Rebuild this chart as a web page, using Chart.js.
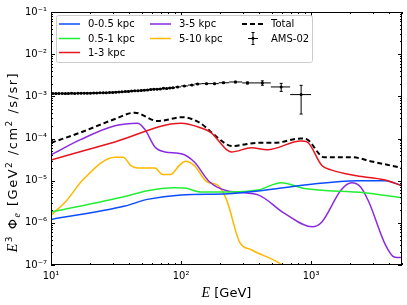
<!DOCTYPE html>
<html>
  <head>
    <meta charset='utf-8'>
    <title>Electron spectrum by source distance</title>
    <style>
      html, body { margin: 0; padding: 0; background: white; }
    </style>
    <script src='https://cdn.jsdelivr.net/npm/chart.js@4.4.1/dist/chart.umd.min.js'></script>
  </head>
  <body>
    <canvas id='spectrum' width='407' height='305'></canvas>

    <script>
    // E in GeV, E^3 Phi_e in GeV^2/cm^2/s/sr
    var nearE = [10, 37, 55, 100, 229, 390, 930, 2240, 3730, 5000];
    var nearFlux = [1.2e-6, 2.5e-6, 3.6e-6, 4.6e-6, 4.9e-6, 5.7e-6, 8e-6, 1e-5, 1e-5, 7.6e-6];

    var midE = [10, 37, 55, 89, 106, 142, 229, 390, 590, 890, 2570, 5000];
    var midFlux = [1.8e-6, 4.2e-6, 5.8e-6, 6.8e-6, 6.7e-6, 5.4e-6, 5.4e-6, 6e-6, 8.9e-6, 6.5e-6, 5.2e-6, 3.9e-6];

    var oneThreeE = [10, 31, 100, 141, 169, 228, 244, 347, 460, 835, 930, 1210, 1420, 2240, 3630, 5000];
    var oneThreeFlux = [3.1e-5, 8.3e-5, 2.3e-4, 1.8e-4, 1.4e-4, 5.2e-5, 4.8e-5, 6e-5, 5.4e-5, 8.7e-5, 8.3e-5, 2.3e-5, 1.8e-5, 1.3e-5, 1.05e-5, 7.6e-6];

    var threeFiveE = [10, 17, 31, 46.5, 53, 63, 75, 102, 126, 166, 229, 390, 620, 1020, 1210, 1700, 2050, 2400, 2770, 3730, 4350, 5000];
    var threeFiveFlux = [4.1e-5, 9.5e-5, 2.0e-4, 2.3e-4, 1.6e-4, 6.3e-5, 4.8e-5, 4.3e-5, 2.8e-5, 9.3e-6, 5.7e-6, 4.6e-6, 1.7e-6, 8.1e-7, 1.05e-6, 6e-6, 8.9e-6, 7.1e-6, 3.2e-6, 3e-7, 1.55e-7, 1.5e-7];

    var fiveTenE = [10, 13.3, 17.6, 31, 36, 41, 46, 63, 72, 83, 97, 108, 126, 159, 190, 224, 282, 347, 600, 650];
    var fiveTenFlux = [1.5e-6, 3.5e-6, 1.05e-5, 3.6e-5, 3.6e-5, 2.3e-5, 2.0e-5, 2.0e-5, 1.4e-5, 1.4e-5, 2.3e-5, 2.9e-5, 2.3e-5, 9.3e-6, 7.9e-6, 3.5e-6, 3.5e-7, 2.3e-7, 1.0e-7, 8e-8];

    var totalE = [10, 17, 31, 44, 66, 103, 141, 169, 215, 244, 387, 522, 835, 930, 1260, 2030, 3000, 5000];
    var totalFlux = [7.9e-5, 1.4e-4, 2.9e-4, 4.1e-4, 2.6e-4, 3.2e-4, 2.3e-4, 1.45e-4, 7.9e-5, 6.6e-5, 7.9e-5, 7.9e-5, 1.0e-4, 9.5e-5, 3.6e-5, 3.6e-5, 2.8e-5, 2.0e-5];

    var amsE = [10.3, 10.9, 11.5, 12.2, 12.9, 13.6, 14.4, 15.2, 16.1, 17.0,
      18.0, 19.0, 20.1, 21.3, 22.5, 23.8, 25.2, 26.6, 28.2, 29.8,
      31.5, 33.3, 35.2, 37.3, 39.4, 41.7, 44.1, 46.7, 49.4, 52.2,
      55.2, 58.4, 61.8, 65.4, 69.2, 73.2, 77.5, 82.0, 86.7,
      94, 106, 121, 134, 157, 181, 212, 262, 324, 422, 589, 838];
    var amsEdges = [10.0, 10.6, 11.2, 11.85, 12.55, 13.25, 14.0, 14.8, 15.65, 16.55,
      17.5, 18.5, 19.55, 20.7, 21.9, 23.15, 24.5, 25.9, 27.4, 29.0,
      30.65, 32.4, 34.25, 36.25, 38.35, 40.55, 42.9, 45.4, 48.05, 50.8,
      53.7, 56.8, 60.1, 63.6, 67.3, 71.2, 75.35, 79.75, 84.35,
      90, 100, 113, 127, 143, 170, 195, 235, 295, 365, 490, 690, 1000];
    var amsFlux = [1.17e-3, 1.16e-3, 1.17e-3, 1.17e-3, 1.16e-3, 1.17e-3, 1.18e-3, 1.17e-3, 1.18e-3, 1.18e-3,
      1.19e-3, 1.18e-3, 1.19e-3, 1.20e-3, 1.20e-3, 1.21e-3, 1.22e-3, 1.22e-3, 1.23e-3, 1.24e-3,
      1.25e-3, 1.27e-3, 1.28e-3, 1.30e-3, 1.31e-3, 1.33e-3, 1.35e-3, 1.36e-3, 1.38e-3, 1.40e-3,
      1.42e-3, 1.45e-3, 1.47e-3, 1.48e-3, 1.50e-3, 1.55e-3, 1.53e-3, 1.57e-3, 1.60e-3,
      1.67e-3, 1.76e-3, 1.85e-3, 1.97e-3, 2.0e-3, 2.0e-3, 2.1e-3, 2.19e-3, 2.08e-3, 2.08e-3, 1.67e-3, 1.1e-3];
    var amsErr = [2e-5, 2e-5, 2e-5, 2e-5, 2e-5, 2e-5, 2e-5, 2e-5, 2e-5, 2e-5,
      2e-5, 2e-5, 2e-5, 2e-5, 2e-5, 2e-5, 2e-5, 2e-5, 2e-5, 2e-5,
      2.5e-5, 2.5e-5, 2.5e-5, 2.5e-5, 2.5e-5, 2.5e-5, 2.5e-5, 2.5e-5, 2.5e-5, 2.5e-5,
      3e-5, 3e-5, 3e-5, 3e-5, 3e-5, 3e-5, 3e-5, 3e-5, 3e-5,
      3e-5, 4e-5, 4e-5, 5e-5, 5e-5, 6e-5, 7e-5, 9e-5, 1.1e-4, 2.5e-4, 3.6e-4, 7.2e-4];

    var seriesLabels = ['0-0.5 kpc', '0.5-1 kpc', '1-3 kpc', '3-5 kpc', '5-10 kpc', 'Total', 'AMS-02'];
    var seriesColors = ['#0a4cff', '#22ee33', '#e8141e', '#8a2be2', '#ffb800', '#000000', '#000000'];

    var xTickValues = [10, 100, 1000];
    var xTickLabels = ['10¹', '10²', '10³'];
    var yTickValues = [1e-7, 1e-6, 1e-5, 1e-4, 1e-3, 1e-2, 1e-1];
    var yTickLabels = ['10⁻⁷', '10⁻⁶', '10⁻⁵', '10⁻⁴', '10⁻³', '10⁻²', '10⁻¹'];

    Chart.defaults.font.family = "'DejaVu Sans', sans-serif";
    Chart.defaults.color = '#000';

    function points(es, vs) {
      return es.map(function (e, i) { return { x: e, y: vs[i] }; });
    }

    function curve(i, es, vs) {
      return {
        label: seriesLabels[i],
        data: points(es, vs),
        borderColor: seriesColors[i],
        backgroundColor: seriesColors[i],
        borderWidth: 1.5,
        pointRadius: 0,
        fill: false,
        cubicInterpolationMode: 'monotone'
      };
    }

    // log ticks 1..9 x 10^n, majors get the labels
    function logTicks(majors, min, max) {
      var out = [];
      majors.forEach(function (m) {
        for (var k = 1; k < 10; k++) {
          var v = m * k;
          if (v >= min * 0.999 && v <= max * 1.001) out.push({ value: v, major: k === 1 });
        }
      });
      return out;
    }

    function labelFor(values, labels) {
      return function (value) {
        for (var i = 0; i < values.length; i++) {
          if (Math.abs(value - values[i]) / values[i] < 1e-6) return labels[i];
        }
        return '';
      };
    }

    function drawRich(ctx, parts, cx, baseY) {
      var total = 0;
      parts.forEach(function (p) { ctx.font = p.font; p.w = ctx.measureText(p.text).width; total += p.w; });
      var x = cx - total / 2;
      ctx.textAlign = 'left';
      ctx.textBaseline = 'alphabetic';
      parts.forEach(function (p) { ctx.font = p.font; ctx.fillText(p.text, x, baseY + (p.dy || 0)); x += p.w; });
    }

    var amsErrorBars = {
      id: 'amsErrorBars',
      afterDatasetsDraw: function (chart) {
        var ctx = chart.ctx, xs = chart.scales.x, ys = chart.scales.y, a = chart.chartArea;
        ctx.save();
        ctx.beginPath();
        ctx.rect(a.left, a.top, a.right - a.left, a.bottom - a.top);
        ctx.clip();
        ctx.strokeStyle = '#000';
        ctx.lineWidth = 1;
        for (var i = 0; i < amsE.length; i++) {
          var px = xs.getPixelForValue(amsE[i]);
          var py = ys.getPixelForValue(amsFlux[i]);
          var x0 = xs.getPixelForValue(amsEdges[i]);
          var x1 = xs.getPixelForValue(amsEdges[i + 1]);
          var y0 = ys.getPixelForValue(amsFlux[i] - amsErr[i]);
          var y1 = ys.getPixelForValue(amsFlux[i] + amsErr[i]);
          ctx.beginPath();
          ctx.moveTo(x0, py); ctx.lineTo(x1, py);
          ctx.moveTo(px, y0); ctx.lineTo(px, y1);
          ctx.moveTo(px - 1.5, y0); ctx.lineTo(px + 1.5, y0);
          ctx.moveTo(px - 1.5, y1); ctx.lineTo(px + 1.5, y1);
          ctx.stroke();
        }
        ctx.restore();
      }
    };

    var frameAndLegend = {
      id: 'frameAndLegend',
      afterDraw: function (chart) {
        var ctx = chart.ctx, a = chart.chartArea, xs = chart.scales.x, ys = chart.scales.y;
        ctx.save();
        ctx.strokeStyle = '#000';
        ctx.lineWidth = 1;
        ctx.strokeRect(a.left + 0.5, a.top + 0.5, a.right - a.left - 1, a.bottom - a.top - 1);

        // inward ticks on all four sides
        ctx.beginPath();
        xs.ticks.forEach(function (t) {
          var px = Math.round(xs.getPixelForValue(t.value)) + 0.5;
          var len = t.major ? 4 : 2;
          ctx.moveTo(px, a.bottom); ctx.lineTo(px, a.bottom - len);
          ctx.moveTo(px, a.top); ctx.lineTo(px, a.top + len);
        });
        ys.ticks.forEach(function (t) {
          var py = Math.round(ys.getPixelForValue(t.value)) + 0.5;
          var len = t.major ? 4 : 2;
          ctx.moveTo(a.left, py); ctx.lineTo(a.left + len, py);
          ctx.moveTo(a.right, py); ctx.lineTo(a.right - len, py);
        });
        ctx.stroke();

        // axis titles
        ctx.fillStyle = '#000';
        drawRich(ctx, [
          { text: 'E', font: "italic 14px 'Liberation Serif'" },
          { text: ' [GeV]', font: "13px 'DejaVu Sans'" }
        ], (a.left + a.right) / 2, 297);

        ctx.save();
        ctx.translate(12, 162);
        ctx.rotate(-Math.PI / 2);
        ctx.letterSpacing = '1.5px';
        drawRich(ctx, [
          { text: 'E', font: "italic 14px 'Liberation Serif'" },
          { text: '3', font: "9px 'DejaVu Sans'", dy: -5 },
          { text: ' Φ', font: "13px 'DejaVu Sans'" },
          { text: 'e', font: "italic 10px 'Liberation Serif'", dy: 3 },
          { text: ' [GeV', font: "13px 'DejaVu Sans'" },
          { text: '2', font: "9px 'DejaVu Sans'", dy: -5 },
          { text: ' /cm', font: "13px 'DejaVu Sans'" },
          { text: '2', font: "9px 'DejaVu Sans'", dy: -5 },
          { text: ' /s/sr]', font: "13px 'DejaVu Sans'" }
        ], 0, 5);
        ctx.restore();

        // legend, three columns
        var box = { x: 56, y: 15, w: 256, h: 47 };
        ctx.fillStyle = 'rgba(255,255,255,0.85)';
        ctx.strokeStyle = '#cccccc';
        ctx.lineWidth = 1;
        ctx.beginPath();
        ctx.roundRect(box.x + 0.5, box.y + 0.5, box.w, box.h, 2);
        ctx.fill();
        ctx.stroke();

        var cols = [[0, 1, 2], [3, 4], [5, 6]];
        var colX = [59, 150, 242];
        var rowY = [24, 38.5, 52.5];
        ctx.font = "10px 'DejaVu Sans'";
        ctx.textBaseline = 'middle';
        ctx.textAlign = 'left';
        cols.forEach(function (col, c) {
          col.forEach(function (s, r) {
            var x = colX[c], y = rowY[r];
            var ds = chart.data.datasets.find(function (d) { return d.label === seriesLabels[s]; });
            ctx.strokeStyle = ds.borderColor;
            if (s === 6) {
              ctx.lineWidth = 1;
              ctx.beginPath();
              ctx.moveTo(x + 6, y); ctx.lineTo(x + 16, y);
              ctx.moveTo(x + 11, y - 6); ctx.lineTo(x + 11, y + 6);
              ctx.moveTo(x + 9.5, y - 6); ctx.lineTo(x + 12.5, y - 6);
              ctx.moveTo(x + 9.5, y + 6); ctx.lineTo(x + 12.5, y + 6);
              ctx.stroke();
              ctx.fillStyle = '#000';
              ctx.beginPath();
              ctx.arc(x + 11, y, 1.4, 0, Math.PI * 2);
              ctx.fill();
            } else {
              ctx.lineWidth = ds.borderWidth;
              ctx.setLineDash(ds.borderDash || []);
              ctx.beginPath();
              ctx.moveTo(x, y); ctx.lineTo(x + 21, y);
              ctx.stroke();
              ctx.setLineDash([]);
            }
            ctx.fillStyle = '#000';
            ctx.fillText(ds.label, x + 29, y + 0.5);
          });
        });
        ctx.restore();
      }
    };

    var totalSet = curve(5, totalE, totalFlux);
    totalSet.borderDash = [5, 3];
    totalSet.borderWidth = 2;

    var amsSet = {
      label: seriesLabels[6],
      data: points(amsE, amsFlux),
      showLine: false,
      pointRadius: 1.5,
      pointBorderWidth: 0,
      borderColor: seriesColors[6],
      backgroundColor: seriesColors[6]
    };

    var spectrum = new Chart(document.getElementById('spectrum').getContext('2d'), {
      type: 'line',
      data: {
        datasets: [
          curve(2, oneThreeE, oneThreeFlux),
          curve(0, nearE, nearFlux),
          curve(1, midE, midFlux),
          curve(3, threeFiveE, threeFiveFlux),
          curve(4, fiveTenE, fiveTenFlux),
          totalSet,
          amsSet
        ]
      },
      options: {
        responsive: false,
        animation: false,
        layout: { padding: { left: 0, right: 5, top: 12, bottom: 0 } },
        plugins: { legend: { display: false }, tooltip: { enabled: false } },
        scales: {
          x: {
            type: 'logarithmic',
            min: 10,
            max: 5000,
            grid: { display: false, drawTicks: false },
            border: { display: false },
            afterBuildTicks: function (s) { s.ticks = logTicks(xTickValues, 10, 5000); },
            afterFit: function (s) { s.height = 40; },
            ticks: {
              autoSkip: false,
              maxRotation: 0,
              padding: 5,
              font: { size: 10 },
              callback: labelFor(xTickValues, xTickLabels)
            }
          },
          y: {
            type: 'logarithmic',
            min: 1e-7,
            max: 1e-1,
            grid: { display: false, drawTicks: false },
            border: { display: false },
            afterBuildTicks: function (s) { s.ticks = logTicks(yTickValues, 1e-7, 1e-1); },
            afterFit: function (s) { s.width = 51; },
            ticks: {
              autoSkip: false,
              padding: 4,
              font: { size: 10 },
              callback: labelFor(yTickValues, yTickLabels)
            }
          }
        }
      },
      plugins: [amsErrorBars, frameAndLegend]
    });
    </script>
  </body>
</html>
